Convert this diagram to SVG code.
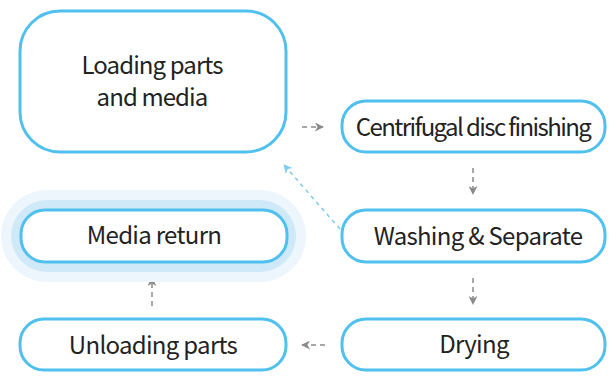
<svg xmlns="http://www.w3.org/2000/svg" width="611" height="377" viewBox="0 0 611 377">
<style>
.box{fill:#fff;stroke:#50c0ee;stroke-width:3}
.t{font-family:"Noto Sans CJK KR","Noto Sans",sans-serif;font-size:24px;font-weight:400;fill:#222;text-anchor:middle;letter-spacing:-0.7px}
.c{fill:none;stroke:#8a8a8a;stroke-width:1.5;stroke-dasharray:5 4}
.cb{fill:none;stroke:#7fcbef;stroke-width:1.5;stroke-dasharray:4 4}
</style>
<defs>
<marker id="ag" viewBox="0 0 10 10" refX="9" refY="5" markerWidth="9" markerHeight="9" markerUnits="userSpaceOnUse" orient="auto"><path d="M0,0 L10,5 L0,10 L3,5 Z" fill="#8a8a8a"/></marker>
<marker id="ab" viewBox="0 0 10 10" refX="9" refY="5" markerWidth="9" markerHeight="9" markerUnits="userSpaceOnUse" orient="auto"><path d="M0,0 L10,5 L0,10 L3,5 Z" fill="#7fcbef"/></marker>
</defs>
<g id="connectors">
<line class="c" x1="302" y1="127" x2="323" y2="127" marker-end="url(#ag)"/>
<line class="c" x1="473" y1="168" x2="473" y2="194" marker-end="url(#ag)"/>
<line class="c" x1="473" y1="278" x2="473" y2="304" marker-end="url(#ag)"/>
<line class="c" x1="325" y1="345" x2="302" y2="345" marker-end="url(#ag)"/>
<line class="c" x1="152" y1="306" x2="152" y2="278" marker-end="url(#ag)"/>
<line class="cb" x1="340" y1="229" x2="284" y2="165" marker-end="url(#ab)"/>
</g>
<g id="n1">
<rect class="box" x="20" y="11" width="266" height="141" rx="40"/>
<text class="t" x="152" y="74" style="letter-spacing:-0.9px">Loading parts</text>
<text class="t" x="152" y="106" style="letter-spacing:-0.9px">and media</text>
</g>
<g id="n2">
<rect class="box" x="342" y="101" width="263" height="51" rx="24"/>
<text class="t" x="473" y="136" style="letter-spacing:-1.6px">Centrifugal disc finishing</text>
</g>
<g id="n3">
<rect class="box" x="342" y="210" width="263" height="52" rx="24"/>
<text class="t" x="478" y="245">Washing &amp; Separate</text>
</g>
<g id="n4">
<rect class="box" x="342" y="319" width="263" height="51" rx="24"/>
<text class="t" x="474" y="353">Drying</text>
</g>
<g id="n5">
<rect class="box" x="20" y="319" width="266" height="51" rx="24"/>
<text class="t" x="153" y="354">Unloading parts</text>
</g>
<g id="n6">
<rect x="1" y="190" width="305" height="92" rx="46" fill="#edf6fd"/>
<rect x="11" y="200" width="285" height="72" rx="36" fill="#cfe9f8"/>
<rect class="box" x="21" y="210" width="266" height="52" rx="24"/>
<text class="t" x="154" y="244">Media return</text>
</g>
</svg>
